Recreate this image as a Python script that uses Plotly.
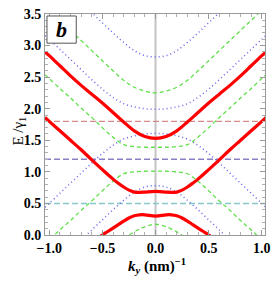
import plotly.graph_objects as go

# ---- data ----
K_FULL = [-1.04, -1.0, -0.9, -0.8, -0.7, -0.6, -0.5, -0.4, -0.3, -0.2, -0.1, 0.0,
          0.1, 0.2, 0.3, 0.4, 0.5, 0.6, 0.7, 0.8, 0.9, 1.0, 1.04]
K_R2 = [-1.04, -1.0, -0.9, -0.8, -0.7, -0.6, -0.5, -0.4, -0.35, -0.3, -0.25, -0.2, -0.15, -0.1, 0.0,
        0.1, 0.15, 0.2, 0.25, 0.3, 0.35, 0.4, 0.5, 0.6, 0.7, 0.8, 0.9, 1.0, 1.04]
K_R3 = [-0.6, -0.5, -0.45, -0.4, -0.35, -0.3, -0.25, -0.2, -0.15, -0.1, 0.0,
        0.1, 0.15, 0.2, 0.25, 0.3, 0.35, 0.4, 0.45, 0.5, 0.6]
K_B1 = [-0.8, -0.7, -0.6, -0.5, -0.4, -0.3, -0.2, -0.1, 0.0, 0.1, 0.2, 0.3, 0.4, 0.5, 0.6, 0.7, 0.8]
K_G4 = [-0.5, -0.4, -0.3, -0.2, -0.1, 0.0, 0.1, 0.2, 0.3, 0.4, 0.5]

RED_1 = [2.90, 2.84, 2.68, 2.52, 2.37, 2.23, 2.09, 1.94, 1.79, 1.65, 1.56, 1.53,
         1.56, 1.65, 1.79, 1.94, 2.09, 2.23, 2.37, 2.52, 2.68, 2.84, 2.90]
RED_2 = [1.86, 1.80, 1.65, 1.50, 1.35, 1.19, 1.035, 0.885, 0.82, 0.76, 0.71, 0.68, 0.675, 0.68, 0.69,
         0.68, 0.675, 0.68, 0.71, 0.76, 0.82, 0.885, 1.035, 1.19, 1.35, 1.50, 1.65, 1.80, 1.86]
RED_3 = [-0.12, 0.0, 0.055, 0.11, 0.165, 0.22, 0.27, 0.305, 0.32, 0.32, 0.30,
         0.32, 0.32, 0.305, 0.27, 0.22, 0.165, 0.11, 0.055, 0.0, -0.12]

BLUE_TOP = [3.84, 3.68, 3.52, 3.36, 3.20, 3.05, 2.92, 2.84, 2.82, 2.84, 2.92, 3.05, 3.20, 3.36, 3.52, 3.68, 3.84]
BLUE_BOT = [-0.24, -0.08, 0.08, 0.24, 0.40, 0.55, 0.68, 0.76, 0.78, 0.76, 0.68, 0.55, 0.40, 0.24, 0.08, -0.08, -0.24]
BLUE_UP = [3.16, 3.10, 2.94, 2.78, 2.62, 2.46, 2.31, 2.18, 2.08, 2.03, 2.00, 1.99,
           2.00, 2.03, 2.08, 2.18, 2.31, 2.46, 2.62, 2.78, 2.94, 3.10, 3.16]
BLUE_LOW = [0.44, 0.50, 0.66, 0.82, 0.98, 1.14, 1.29, 1.42, 1.52, 1.57, 1.60, 1.61,
            1.60, 1.57, 1.52, 1.42, 1.29, 1.14, 0.98, 0.82, 0.66, 0.50, 0.44]

GREEN_1 = [3.62, 3.56, 3.40, 3.24, 3.08, 2.92, 2.76, 2.60, 2.45, 2.34, 2.28, 2.25,
           2.28, 2.34, 2.45, 2.60, 2.76, 2.92, 3.08, 3.24, 3.40, 3.56, 3.62]
GREEN_2 = [2.54, 2.48, 2.32, 2.17, 2.01, 1.86, 1.70, 1.55, 1.43, 1.40, 1.39, 1.39,
           1.39, 1.40, 1.43, 1.55, 1.70, 1.86, 2.01, 2.17, 2.32, 2.48, 2.54]
GREEN_3 = [-0.14, -0.08, 0.08, 0.23, 0.39, 0.54, 0.70, 0.85, 0.97, 1.00, 1.01, 1.01,
           1.01, 1.00, 0.97, 0.85, 0.70, 0.54, 0.39, 0.23, 0.08, -0.08, -0.14]
GREEN_4 = [-0.35, -0.2, -0.06, 0.05, 0.13, 0.17, 0.13, 0.05, -0.06, -0.2, -0.35]

H_LEVELS = [1.8, 1.2, 0.5]
H_COLORS = ["#d48a8a", "#8a80c4", "#86c8cc"]

X_TICKS = [-1.0, -0.5, 0.0, 0.5, 1.0]
X_LABELS = ["\u22121.0", "\u22120.5", "0.0", "0.5", "1.0"]
Y_TICKS = [0.0, 0.5, 1.0, 1.5, 2.0, 2.5, 3.0, 3.5]
Y_LABELS = ["0.0", "0.5", "1.0", "1.5", "2.0", "2.5", "3.0", "3.5"]

XR = [-1.04, 1.03]
YR = [0.0, 3.5]

GREEN = "#5fe04a"
BLUE = "#6464ee"
RED = "#ff0000"

fig = go.Figure()

# horizontal reference lines
for lev, col in zip(H_LEVELS, H_COLORS):
    fig.add_trace(go.Scatter(x=XR, y=[lev, lev], mode="lines",
                             line=dict(color=col, width=1.4, dash="6px,3px"),
                             hoverinfo="skip", showlegend=False))

def add(xs, ys, color, width, dash):
    fig.add_trace(go.Scatter(x=xs, y=ys, mode="lines",
                             line=dict(color=color, width=width, dash=dash,
                                       shape="spline", smoothing=1.0),
                             hoverinfo="skip", showlegend=False))

for g in [GREEN_1, GREEN_2, GREEN_3]:
    add(K_FULL, g, GREEN, 1.3, "4px,3px")
add(K_G4, GREEN_4, GREEN, 1.3, "4px,3px")

add(K_B1, BLUE_TOP, BLUE, 1.5, "1px,3px")
add(K_B1, BLUE_BOT, BLUE, 1.5, "1px,3px")
add(K_FULL, BLUE_UP, BLUE, 1.5, "1px,3px")
add(K_FULL, BLUE_LOW, BLUE, 1.5, "1px,3px")

add(K_FULL, RED_1, RED, 3.2, "solid")
add(K_R2, RED_2, RED, 3.2, "solid")
add(K_R3, RED_3, RED, 3.2, "solid")

FONT = "Liberation Serif"
axis_common = dict(showgrid=False, zeroline=False, showline=True, linecolor="#9a9a9a",
                   linewidth=1, mirror="allticks", ticks="inside", ticklen=5,
                   tickcolor="#9a9a9a", tickwidth=1,
                   tickfont=dict(family=FONT, size=14, color="black", weight="bold"),
                   minor=dict(ticks="inside", ticklen=3, tickcolor="#b0b0b0", dtick=0.1))

fig.update_layout(
    width=277, height=283,
    margin=dict(l=45, r=7, t=8, b=48),
    plot_bgcolor="white", paper_bgcolor="white",
    xaxis=dict(range=XR, tickvals=X_TICKS, ticktext=X_LABELS, **axis_common),
    yaxis=dict(range=YR, tickvals=Y_TICKS, ticktext=Y_LABELS, **axis_common),
    shapes=[
        dict(type="line", xref="x", yref="paper", x0=0, x1=0, y0=0, y1=1,
             line=dict(color="#c4c4c4", width=2), layer="below"),
        dict(type="rect", xref="paper", yref="paper", x0=0.009, x1=0.142, y0=0.868, y1=0.991,
             line=dict(color="#555555", width=1), fillcolor="white", layer="above"),
    ],
    annotations=[
        dict(text="<b><i>b</i></b>", xref="paper", yref="paper", x=0.0755, y=0.93,
             xanchor="center", yanchor="middle",
             showarrow=False, font=dict(family=FONT, size=22, color="black")),
        dict(text="E /\u03b3<sub>1</sub>", xref="paper", yref="paper", x=-0.116, y=0.47,
             xanchor="center", yanchor="middle",
             textangle=-90, showarrow=False, font=dict(family=FONT, size=15, color="black")),
        dict(text="<b><i>k</i></b><sub><b><i>y</i></b></sub><b> (nm)</b><sup><b>\u22121</b></sup>",
             xref="paper", yref="paper", x=0.507, y=-0.14, xanchor="center", yanchor="middle",
             showarrow=False, font=dict(family=FONT, size=15, color="black")),
    ],
)

fig.write_html("out.html", config={"displayModeBar": False},
               post_script="document.body.style.margin='0';document.body.style.overflow='hidden';")
